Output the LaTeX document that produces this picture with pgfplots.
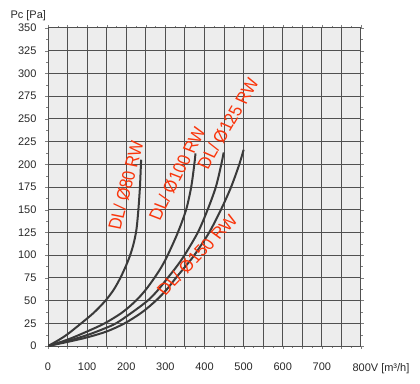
\documentclass[border=0pt]{standalone}
\usepackage{fontspec}
\setmainfont{Liberation Sans}
\usepackage{pgfplots}
\pgfplotsset{compat=1.18}
\definecolor{gridc}{RGB}{80,80,80}
\definecolor{curvec}{RGB}{58,58,58}
\definecolor{lblred}{RGB}{250,52,10}
\definecolor{txt}{RGB}{40,40,40}
\begin{document}
\begin{tikzpicture}
\path (-48pt,-37pt) rectangle (372pt,346pt);
\begin{axis}[
  scale only axis, width=313pt, height=318pt,
  xmin=0, xmax=800, ymin=0, ymax=350,
  xtick={0,50,...,800},
  xticklabels={0,,100,,200,,300,,400,,500,,600,,700,,{}},
  ytick={0,25,...,350},
  minor x tick num=1, minor y tick num=1,
  tick align=outside,
  major tick length=3pt, minor tick length=2pt,
  xmajorgrids=true, ymajorgrids=true,
  major grid style={draw=gridc, line width=1pt},
  axis line style={gridc, line width=1pt},
  axis background/.style={fill=black!7},
  /pgf/number format/assume math mode=true,
  ticklabel style={font=\fontsize{11}{13}\selectfont, text=txt},
  xticklabel style={yshift=-10pt},
  yticklabel style={xshift=-5pt},
]
\addplot[curvec, line width=2pt, smooth] coordinates {
 (0,0) (25,6) (50,13) (85,25) (118,37) (147,50) (168,62) (185,75) (199,88) (210,100) (219,113) (226,128) (231,150) (235,175) (238,205)};
\addplot[curvec, line width=2pt, smooth] coordinates {
 (0,0) (50,7) (100,16) (145,25) (190,37) (225,50) (250,62) (272,75) (290,87) (306,100) (332,125) (353,150) (366,175) (374,200) (377,212)};
\addplot[curvec, line width=2pt, smooth] coordinates {
 (0,0) (50,5.5) (100,12) (140,18.5) (174,25) (215,37) (255,50) (282,62) (306,75) (328,87) (349,100) (383,125) (408,150) (429,175) (443,200) (449,213)};
\addplot[curvec, line width=2pt, smooth] coordinates {
 (0,0) (50,4.5) (100,9.5) (150,16) (196,25) (240,37) (276,50) (303,62) (327,75) (350,87) (374,100) (412,125) (442,150) (468,175) (489,200) (500,216)};
\coordinate (l80) at (axis cs:199,177);
\coordinate (l100) at (axis cs:330,190);
\coordinate (l125) at (axis cs:460,245);
\coordinate (l150) at (axis cs:381,100);
\end{axis}
\begin{scope}[every node/.style={text=lblred, font=\fontsize{16}{18}\selectfont, xscale=1.15}]
\node[rotate=77] at (l80) {DL/ Ø80 RW};
\node[rotate=66] at (l100) {DL/ Ø100 RW};
\node[rotate=63] at (l125) {DL/ Ø125 RW};
\node[rotate=50] at (l150) {DL/ Ø150 RW};
\end{scope}
\node[anchor=west, text=txt, font=\fontsize{11}{13}\selectfont] at (-41pt,330pt) {Pc [Pa]};
\node[anchor=west, text=txt, font=\fontsize{11}{13}\selectfont] at (301pt,-23pt) {800V [m³/h]};
\end{tikzpicture}
\end{document}
